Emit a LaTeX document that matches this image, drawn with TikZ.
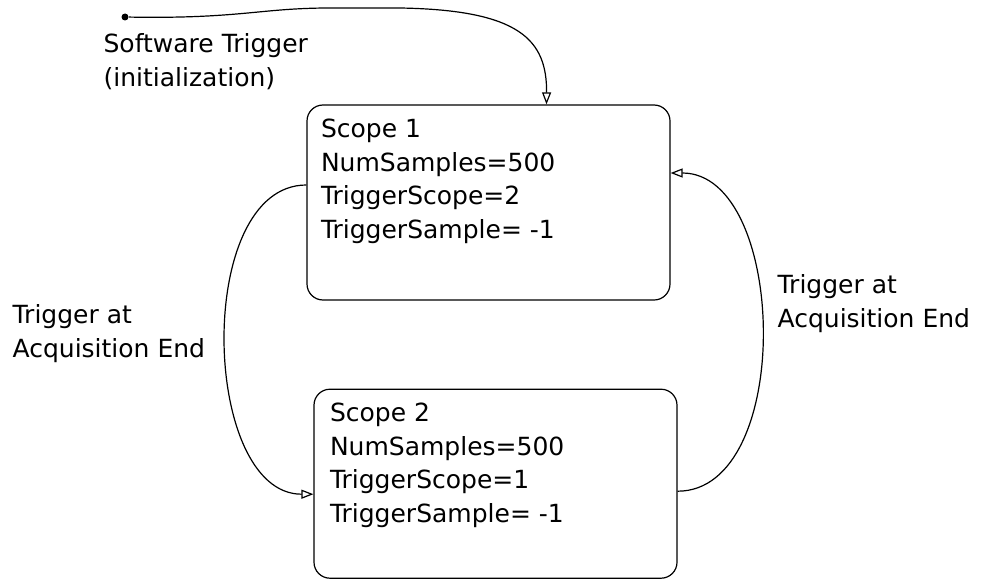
\documentclass[tikz,border=0pt]{standalone}
\usepackage{fontspec}
\setmainfont{DejaVu Sans}
\usetikzlibrary{arrows.meta,positioning}

\begin{document}
\begin{tikzpicture}[x=1pt, y=-1pt, line width=1.2pt,
	every node/.style={font=\fontsize{25}{33.5}\selectfont},
	scopebox/.style={draw, rounded corners=16pt, minimum width=363pt, inner sep=0pt},
	boxtext/.style={anchor=north west, align=left, inner sep=0pt},
	trans/.style={-{Triangle[open, length=12pt, width=9pt]}}]
	\useasboundingbox (0,0) rectangle (987,578);
	% the two states
	\node[scopebox, minimum height=195pt] (scope1) at (488.5,202.5) {};
	\node[scopebox, minimum height=189pt, below=88pt of scope1, xshift=7pt] (scope2) {};
	\node[boxtext] (txt1) at ([xshift=14pt, yshift=-14pt]scope1.north west)
		{Scope 1\\NumSamples=500\\TriggerScope=2\\TriggerSample= -1};
	\node[boxtext] (txt2) at ([xshift=16pt, yshift=-14pt]scope2.north west)
		{Scope 2\\NumSamples=500\\TriggerScope=1\\TriggerSample= -1};
	
	% initial transition
	\node[circle, fill, inner sep=0pt, minimum size=7pt] (start) at (125,17) {};
	\node[boxtext] (init) at (103,33) {Software Trigger\\(initialization)};
	\coordinate (s1in) at ([xshift=58pt]scope1.north);
	\draw[trans] (start) .. controls (240,19) and (260,8) .. (330,8) -- (400,8)
		.. controls (520,10) and (547,40) .. (s1in);
	
	% scope 1 -> scope 2
	\draw[trans] ([yshift=17.5pt]scope1.west) to[out=180, in=180, looseness=0.93]
		([yshift=-10.5pt]scope2.west);
	\node[boxtext] (lbl12) at (12,304) {Trigger at\\Acquisition End};
	
	% scope 2 -> scope 1
	\draw[trans] ([yshift=-7.5pt]scope2.east) to[out=0, in=0, looseness=0.94]
		([yshift=29.5pt]scope1.east);
	\node[boxtext] (lbl21) at (777,274) {Trigger at\\Acquisition End};
\end{tikzpicture}
\end{document}
